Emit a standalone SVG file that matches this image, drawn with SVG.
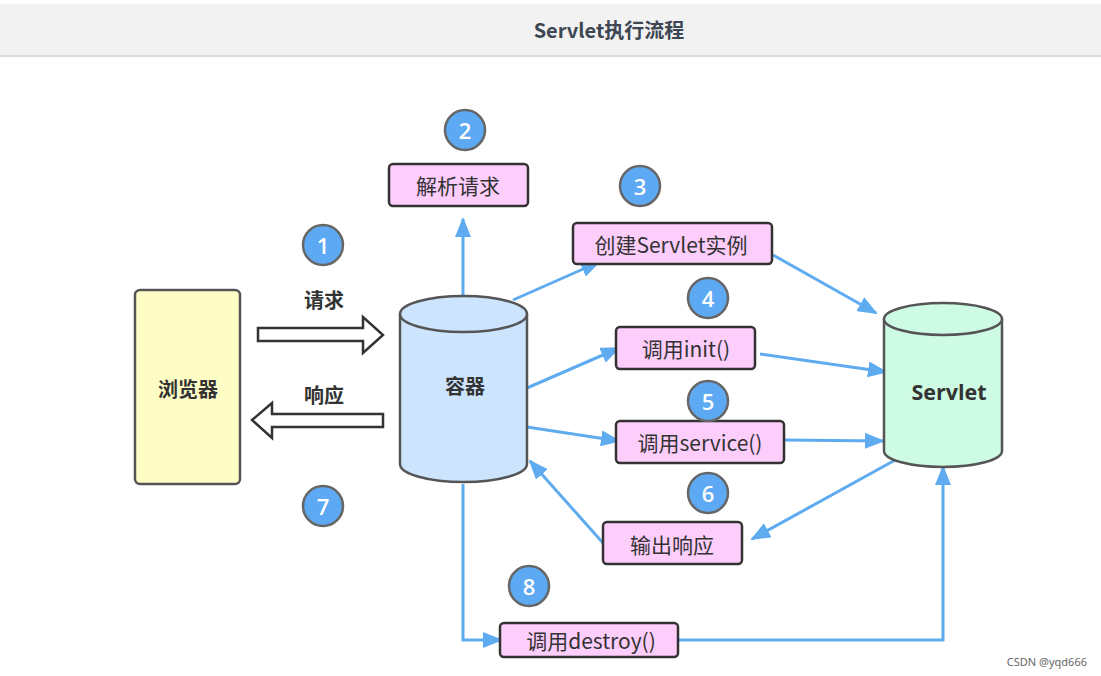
<svg xmlns="http://www.w3.org/2000/svg" width="1101" height="676" viewBox="0 0 1101 676">
<defs>
<style>
.box{fill:#fdcdfb;stroke:#333;stroke-width:2.5}
.lbl{font-family:"Noto Sans CJK SC","Noto Sans",sans-serif;font-size:21px;fill:#333;text-anchor:middle;dominant-baseline:central}
.bold{font-family:"Noto Sans CJK SC","Noto Sans",sans-serif;font-weight:bold;fill:#333;text-anchor:middle;dominant-baseline:central}
.badge circle{fill:#5da9f3;stroke:#666;stroke-width:2.5}
.badge text{font-family:"Open Sans","Noto Sans",sans-serif;font-size:22px;font-weight:600;fill:#fff;text-anchor:middle;dominant-baseline:central}
.conn{fill:none;stroke:#5fabf0;stroke-width:3}
.hollow{fill:#fff;stroke:#333;stroke-width:2.5;stroke-linejoin:miter}
</style>
<marker id="ah" markerUnits="userSpaceOnUse" markerWidth="20" markerHeight="16" refX="18" refY="8" orient="auto">
<path d="M0,0 L20,8 L0,16 Z" fill="#5fabf0"/>
</marker>
</defs>
<rect width="1101" height="676" fill="#fff"/>
<g id="header">
<rect x="0" y="4" width="1101" height="52" fill="#f2f2f2"/>
<line x1="0" y1="56" x2="1101" y2="56" stroke="#dcdcdc" stroke-width="2"/>
<text x="609" y="29" font-family="Noto Sans CJK SC, Noto Sans, sans-serif" font-size="20" font-weight="bold" fill="#3d4653" text-anchor="middle" dominant-baseline="central">Servlet执行流程</text>
</g>
<g id="connectors">
<line class="conn" x1="463" y1="296" x2="463" y2="219" marker-end="url(#ah)"/>
<line class="conn" x1="513" y1="300" x2="599" y2="262" marker-end="url(#ah)"/>
<line class="conn" x1="773" y1="255" x2="876" y2="313" marker-end="url(#ah)"/>
<line class="conn" x1="527" y1="388" x2="619" y2="348" marker-end="url(#ah)"/>
<line class="conn" x1="760" y1="354" x2="886" y2="372" marker-end="url(#ah)"/>
<line class="conn" x1="527" y1="427" x2="619" y2="441" marker-end="url(#ah)"/>
<line class="conn" x1="785" y1="440" x2="883" y2="441" marker-end="url(#ah)"/>
<line class="conn" x1="897" y1="459" x2="752" y2="539" marker-end="url(#ah)"/>
<line class="conn" x1="603" y1="543" x2="530" y2="461" marker-end="url(#ah)"/>
<polyline class="conn" points="463,484 463,640 501,640" marker-end="url(#ah)"/>
<polyline class="conn" points="679,640 943,640 943,467" marker-end="url(#ah)"/>
<path class="hollow" d="M258,328 L363,328 L363,317 L383,335 L363,353 L363,341 L258,341 Z"/>
<path class="hollow" d="M383,414 L272,414 L272,403 L252,420 L272,438 L272,427 L383,427 Z"/>
<text class="bold" x="324" y="299" font-size="20">请求</text>
<text class="bold" x="324" y="394" font-size="20">响应</text>
</g>
<g id="browser">
<rect x="135" y="290" width="105" height="194" rx="5" fill="#fefdc6" stroke="#555" stroke-width="2.5"/>
<text class="bold" x="188" y="388" font-size="20">浏览器</text>
</g>
<g id="container">
<path d="M400,314 L400,464 A63.5,18 0 0 0 527,464 L527,314" fill="#cce4fd" stroke="#555" stroke-width="2.5"/>
<ellipse cx="463.5" cy="314" rx="63.5" ry="18" fill="#cce4fd" stroke="#555" stroke-width="2.5"/>
<text class="bold" x="465" y="385" font-size="20">容器</text>
</g>
<g id="servlet">
<path d="M884,319 L884,451 A59,16 0 0 0 1002,451 L1002,319" fill="#cdfbe4" stroke="#555" stroke-width="2.5"/>
<ellipse cx="943" cy="319" rx="59" ry="16" fill="#cdfbe4" stroke="#555" stroke-width="2.5"/>
<text x="949" y="391" font-family="Open Sans, Noto Sans, sans-serif" font-size="21.5" font-weight="bold" fill="#333" text-anchor="middle" dominant-baseline="central">Servlet</text>
</g>
<g id="parse">
<rect class="box" x="389" y="164" width="139" height="42" rx="4"/>
<text class="lbl" x="458" y="185">解析请求</text>
</g>
<g id="create">
<rect class="box" x="573" y="223" width="199" height="41" rx="4"/>
<text class="lbl" x="671" y="244">创建Servlet实例</text>
</g>
<g id="init">
<rect class="box" x="616" y="327" width="139" height="42" rx="4"/>
<text class="lbl" x="686" y="348">调用init()</text>
</g>
<g id="service">
<rect class="box" x="616" y="421" width="168" height="42" rx="4"/>
<text class="lbl" x="700" y="442">调用service()</text>
</g>
<g id="output">
<rect class="box" x="603" y="522" width="139" height="42" rx="4"/>
<text class="lbl" x="672" y="544">输出响应</text>
</g>
<g id="destroy">
<rect class="box" x="500" y="623" width="178" height="34" rx="4"/>
<text class="lbl" x="591" y="640">调用destroy()</text>
</g>
<g id="b1" class="badge"><circle cx="323" cy="245" r="20"/><text x="323" y="245">1</text></g>
<g id="b2" class="badge"><circle cx="465" cy="130" r="20"/><text x="465" y="130">2</text></g>
<g id="b3" class="badge"><circle cx="640" cy="186" r="20"/><text x="640" y="186">3</text></g>
<g id="b4" class="badge"><circle cx="708" cy="298" r="20"/><text x="708" y="298">4</text></g>
<g id="b5" class="badge"><circle cx="708" cy="401" r="20"/><text x="708" y="401">5</text></g>
<g id="b6" class="badge"><circle cx="708" cy="493" r="20"/><text x="708" y="493">6</text></g>
<g id="b7" class="badge"><circle cx="323" cy="506" r="20"/><text x="323" y="506">7</text></g>
<g id="b8" class="badge"><circle cx="529" cy="586" r="20"/><text x="529" y="586">8</text></g>
<text x="1087" y="661" font-family="Noto Sans, sans-serif" font-size="11" fill="#666" text-anchor="end" dominant-baseline="central">CSDN @yqd666</text>
</svg>
